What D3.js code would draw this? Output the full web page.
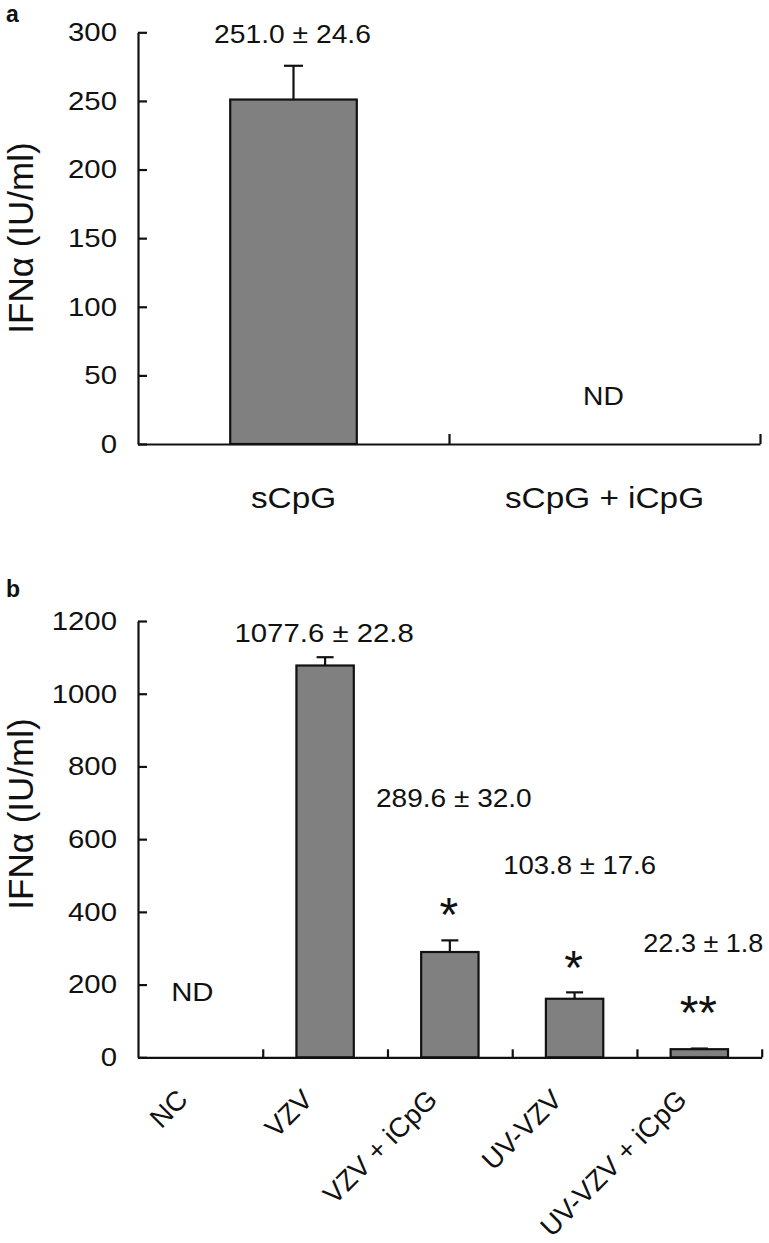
<!DOCTYPE html>
<html>
<head>
<meta charset="utf-8">
<script src="https://cdn.jsdelivr.net/npm/d3@7/dist/d3.min.js"></script>
<style>
  html, body { margin: 0; padding: 0; background: #fff; }
  svg { display: block; }
  text { font-family: "Liberation Sans", Arial, Helvetica, sans-serif; fill: #111; }
</style>
</head>
<body>
<svg id="chart" width="769" height="1243"></svg>
<script>
// ---------- Data ----------
// Panel a
const catsA = ["sCpG", "sCpG + iCpG"];
const valuesA = [251.0, null];          // null = not detected (ND)
const errorsA = [24.6, null];
const labelsA = ["251.0 \u00B1 24.6", "ND"];
const ticksA = [0, 50, 100, 150, 200, 250, 300];

// Panel b
const catsB = ["NC", "VZV", "VZV + iCpG", "UV-VZV", "UV-VZV + iCpG"];
const valuesB = [null, 1077.6, 289.6, 161, 22.3];
const errorsB = [null, 22.8, 32.0, 17.6, 1.8];
const labelsB = ["ND", "1077.6 \u00B1 22.8", "289.6 \u00B1 32.0", "103.8 \u00B1 17.6", "22.3 \u00B1 1.8"];
const starsB = ["", "", "*", "*", "**"];
const ticksB = [0, 200, 400, 600, 800, 1000, 1200];

const yTitle = "IFN\u03B1 (IU/ml)";

// ---------- Drawing ----------
const svg = d3.select("#chart");
const BAR_FILL = "#808080";
const INK = "#111";
const SX = 1.13;   // horizontal stretch of the lettering

// place a text at (x,y) stretched horizontally around its anchor
function placeText(sel, fx, fy, sx) {
  const s = sx || SX;
  sel.attr("transform", (d, i) => `translate(${fx(d, i)},${fy(d, i)}) scale(${s},1)`)
    .attr("x", 0).attr("y", 0);
}

function drawPanel(opt) {
  const g = svg.append("g");
  const y = d3.scaleLinear().domain(opt.yDomain).range([opt.y0, opt.y1]);
  const x = d3.scaleBand().domain(opt.cats).range([opt.xL, opt.xR])
    .paddingInner(opt.pad).paddingOuter(opt.pad / 2);
  const idx = d3.scaleLinear().domain([0, opt.cats.length]).range([opt.xL, opt.xR]);

  // y axis (ticks pointing inward)
  const yAxis = d3.axisLeft(y).tickValues(opt.ticks).tickSizeInner(-9).tickSizeOuter(0)
    .tickPadding(21).tickFormat(d3.format("d"));
  const ya = g.append("g").attr("transform", `translate(${opt.xL},0)`).call(yAxis);
  ya.select(".domain").attr("stroke", INK).attr("stroke-width", 2.2);
  ya.selectAll(".tick line").attr("stroke", INK).attr("stroke-width", 2.2);
  ya.selectAll(".tick text").attr("font-size", 26).attr("fill", INK)
    .attr("font-family", "Liberation Sans, Arial, sans-serif")
    .attr("x", -21 / SX).attr("transform", `scale(${SX},1)`);

  // x axis (boundary ticks pointing up)
  const xAxis = d3.axisBottom(idx).tickValues(d3.range(1, opt.cats.length + 1))
    .tickSizeInner(-opt.xTick).tickSizeOuter(0).tickFormat("");
  const xa = g.append("g").attr("transform", `translate(0,${opt.y0})`).call(xAxis);
  xa.select(".domain").attr("stroke", INK).attr("stroke-width", 2.2);
  xa.selectAll(".tick line").attr("stroke", INK).attr("stroke-width", 2.2);

  // bars
  const data = opt.cats.map((c, i) => ({ c, v: opt.values[i], e: opt.errors[i], i }));
  const present = data.filter(d => d.v != null);
  g.selectAll("rect.bar").data(present).join("rect").attr("class", "bar")
    .attr("x", d => x(d.c)).attr("width", x.bandwidth())
    .attr("y", d => y(d.v)).attr("height", d => y(0) - y(d.v))
    .attr("fill", BAR_FILL).attr("stroke", INK).attr("stroke-width", 2.2);

  // error bars
  const eb = present.filter(d => d.e != null);
  g.selectAll("line.err").data(eb).join("line").attr("class", "err")
    .attr("x1", d => x(d.c) + x.bandwidth() / 2).attr("x2", d => x(d.c) + x.bandwidth() / 2)
    .attr("y1", d => y(d.v)).attr("y2", d => y(d.v + d.e))
    .attr("stroke", INK).attr("stroke-width", 2.2);
  g.selectAll("line.cap").data(eb).join("line").attr("class", "cap")
    .attr("x1", d => x(d.c) + x.bandwidth() / 2 - opt.cap / 2)
    .attr("x2", d => x(d.c) + x.bandwidth() / 2 + opt.cap / 2)
    .attr("y1", d => y(d.v + d.e)).attr("y2", d => y(d.v + d.e))
    .attr("stroke", INK).attr("stroke-width", 2.2);

  // y title
  g.append("text")
    .attr("transform", `translate(33,${opt.titleY}) rotate(-90)`)
    .attr("text-anchor", "middle").attr("font-size", 35).text(yTitle);

  // panel letter
  g.append("text").attr("x", 6).attr("y", opt.letterY)
    .attr("font-size", 23).attr("font-weight", "bold").text(opt.letter);

  return { g, x, y };
}

// ---- Panel a ----
const A = drawPanel({
  cats: catsA, values: valuesA, errors: errorsA, ticks: ticksA,
  yDomain: [0, 300], y0: 444, y1: 32.3, xL: 138, xR: 760, pad: 0.593,
  xTick: 10, cap: 19, titleY: 238, letter: "a", letterY: 21.5
});
// value labels / ND
const labAPos = [{ dx: -1, yv: 300, dy: 11, fs: 25 }, { dx: -1, yv: 0, dy: -39, fs: 25 }];
A.g.selectAll("text.val").data(labelsA).join("text").attr("class", "val")
  .attr("text-anchor", "middle").attr("font-size", (d, i) => labAPos[i].fs).text(d => d)
  .call(placeText,
    (d, i) => A.x(catsA[i]) + A.x.bandwidth() / 2 + labAPos[i].dx,
    (d, i) => A.y(labAPos[i].yv) + labAPos[i].dy);
// category labels
A.g.selectAll("text.cat").data(catsA).join("text").attr("class", "cat")
  .attr("text-anchor", "middle").attr("font-size", 29.5).text(d => d)
  .call(placeText, d => A.x(d) + A.x.bandwidth() / 2, () => A.y(0) + 64);

// ---- Panel b ----
const B = drawPanel({
  cats: catsB, values: valuesB, errors: errorsB, ticks: ticksB,
  yDomain: [0, 1200], y0: 1057.3, y1: 621, xL: 138, xR: 761.7, pad: 0.54,
  xTick: 8, cap: 17, titleY: 814, letter: "b", letterY: 597
});
// value labels placement (y in data units, x as px offset from bar centre)
const labBPos = [
  { dx: -8, yv: 0, dy: -56, fs: 26, sx: 1.13 },
  { dx: -1, yv: 1142, dy: 0, fs: 26, sx: 1.13 },
  { dx: 4, yv: 688, dy: 0, fs: 25.5, sx: 1.1 },
  { dx: 5, yv: 503, dy: 0, fs: 25.5, sx: 1.08 },
  { dx: 4, yv: 290, dy: 0, fs: 25.5, sx: 1.06 }
];
B.g.selectAll("text.val").data(labelsB).join("text").attr("class", "val")
  .attr("text-anchor", "middle").attr("font-size", (d, i) => labBPos[i].fs).text(d => d)
  .attr("transform", (d, i) => `translate(${B.x(catsB[i]) + B.x.bandwidth() / 2 + labBPos[i].dx},${B.y(labBPos[i].yv) + labBPos[i].dy}) scale(${labBPos[i].sx},1)`);
// significance stars
const starGap = [0, 0, 30, 29, 41];
B.g.selectAll("text.star").data(catsB.map((c, i) => ({ c, i, s: starsB[i] })).filter(d => d.s))
  .join("text").attr("class", "star")
  .attr("x", d => B.x(d.c) + B.x.bandwidth() / 2 - 1)
  .attr("y", d => B.y(valuesB[d.i] + errorsB[d.i]) - starGap[d.i] + 21)
  .attr("text-anchor", "middle").attr("font-size", 48).text(d => d.s);
// rotated category labels
B.g.selectAll("text.cat").data(catsB).join("text").attr("class", "cat")
  .attr("transform", d => `translate(${B.x(d) + B.x.bandwidth() / 2 - 11},${B.y(0) + 44}) rotate(-45)`)
  .attr("text-anchor", "end").attr("font-size", 27.5).text(d => d);
</script>
</body>
</html>
